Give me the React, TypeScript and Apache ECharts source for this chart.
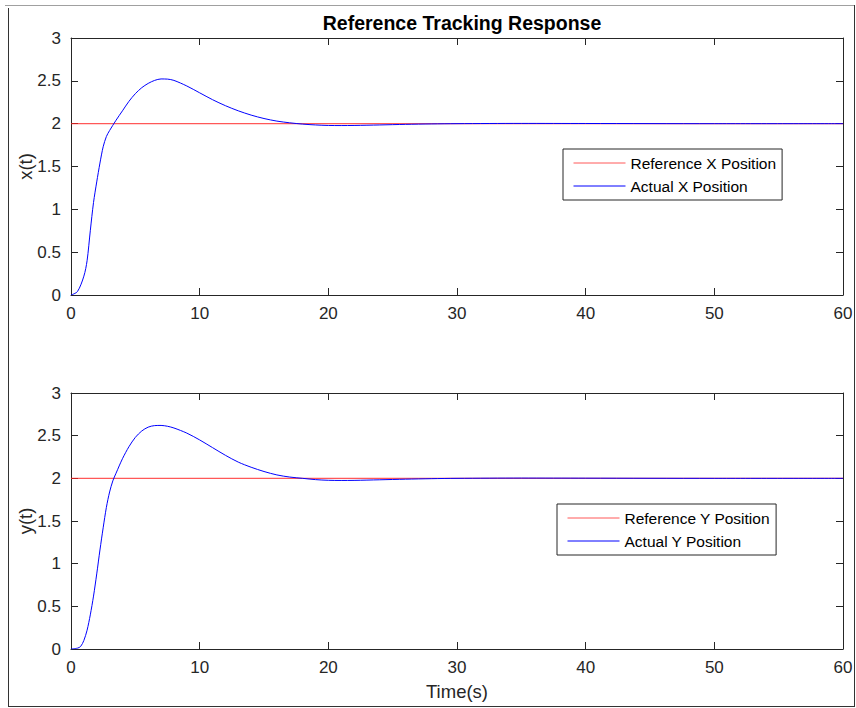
import React, { useEffect, useRef } from "react";
import * as echarts from "echarts";

const tX = [0, 0.5, 1.0, 1.25, 1.5, 1.75, 2.0, 2.25, 2.5, 2.75, 3.0, 3.5, 4.0, 4.5, 5.0, 5.5, 6.0, 6.5, 7.0, 7.5, 8.0, 9.0, 10, 11, 12, 13, 14, 15, 16, 17, 18, 19, 20, 21, 22, 24, 26, 28, 30, 35, 40, 50, 60];
const xActual = [0, 0.04, 0.22, 0.4, 0.75, 1.08, 1.32, 1.54, 1.73, 1.85, 1.92, 2.04, 2.15, 2.26, 2.35, 2.42, 2.47, 2.505, 2.522, 2.52, 2.505, 2.44, 2.36, 2.28, 2.21, 2.15, 2.1, 2.06, 2.03, 2.01, 1.995, 1.985, 1.979, 1.978, 1.979, 1.985, 1.992, 1.997, 2.0, 2.003, 2.002, 2.0, 2.0];

const tY = [0, 0.5, 0.75, 1.0, 1.25, 1.5, 1.75, 2.0, 2.25, 2.5, 2.75, 3.0, 3.25, 3.5, 4.0, 4.5, 5.0, 5.5, 6.0, 6.5, 7.0, 7.5, 8.0, 9.0, 10, 11, 12, 13, 14, 15, 16, 17, 18, 19, 20, 21, 22, 24, 26, 28, 30, 35, 40, 50, 60];
const yActual = [0, 0.01, 0.03, 0.1, 0.22, 0.4, 0.62, 0.88, 1.16, 1.42, 1.66, 1.84, 1.97, 2.06, 2.23, 2.37, 2.48, 2.555, 2.6, 2.618, 2.62, 2.61, 2.59, 2.53, 2.45, 2.36, 2.27, 2.19, 2.13, 2.08, 2.04, 2.015, 2.0, 1.985, 1.977, 1.975, 1.976, 1.983, 1.99, 1.996, 2.0, 2.003, 2.002, 2.0, 2.0];

const tRef = [0, 60];
const refValue = [2, 2];

const xTicks = [0, 10, 20, 30, 40, 50, 60];
const yTicks = [0, 0.5, 1, 1.5, 2, 2.5, 3];

const titleText = "Reference Tracking Response";
const xAxisLabel = "Time(s)";
const yLabels = ["x(t)", "y(t)"];
const legendNames = [
  ["Reference X Position", "Actual X Position"],
  ["Reference Y Position", "Actual Y Position"],
];

const FONT = "'Liberation Sans', Arial, Helvetica, sans-serif";
const AX = "#262626";

export default function App() {
  const ref = useRef<HTMLDivElement>(null);
  useEffect(() => {
    if (!ref.current) return;
    const chart = echarts.init(ref.current, undefined, { renderer: "svg" });
    const grids = [
      { left: 71, top: 38, width: 772, height: 257 },
      { left: 71, top: 393, width: 772, height: 256 },
    ];
    const xAxes: any[] = [];
    const yAxes: any[] = [];
    grids.forEach((_, g) => {
      const common = {
        gridIndex: g,
        type: "value",
        min: xTicks[0],
        max: xTicks[xTicks.length - 1],
        interval: 10,
        splitLine: { show: false },
        axisLine: { show: true, onZero: false, lineStyle: { color: AX, width: 1 } },
        axisTick: { show: true, inside: true, length: 7, lineStyle: { color: AX } },
      };
      xAxes.push({
        ...common,
        position: "bottom",
        axisLabel: { show: true, color: AX, fontSize: 17, fontFamily: FONT, margin: 10 },
        name: g === 1 ? xAxisLabel : "",
        nameLocation: "middle",
        nameGap: 33,
        nameMoveOverlap: false,
        nameTextStyle: { color: AX, fontSize: 18.5, fontFamily: FONT },
      });
      xAxes.push({ ...common, position: "top", axisLabel: { show: false } });
      const ycommon = {
        gridIndex: g,
        type: "value",
        min: yTicks[0],
        max: yTicks[yTicks.length - 1],
        interval: 0.5,
        splitLine: { show: false },
        axisLine: { show: true, onZero: false, lineStyle: { color: AX, width: 1 } },
        axisTick: { show: true, inside: true, length: 7, lineStyle: { color: AX } },
      };
      yAxes.push({
        ...ycommon,
        position: "left",
        axisLabel: { show: true, color: AX, fontSize: 17, fontFamily: FONT, margin: 10 },
        name: yLabels[g],
        nameLocation: "middle",
        nameGap: 36,
        nameMoveOverlap: false,
        nameTextStyle: { color: AX, fontSize: 18.5, fontFamily: FONT },
      });
      yAxes.push({ ...ycommon, position: "right", axisLabel: { show: false } });
    });

    const refX = tRef.map((t, i) => [t, refValue[i]]);
    const series: any[] = [];
    [
      [tX, xActual],
      [tY, yActual],
    ].forEach(([ts, vs], g) => {
      series.push({
        name: legendNames[g][0],
        type: "line",
        xAxisIndex: g * 2,
        yAxisIndex: g * 2,
        data: refX,
        symbol: "none",
        lineStyle: { color: "#ff2020", width: 1.2, opacity: 0.75 },
        itemStyle: { color: "#ff2020" },
        silent: true,
      });
      series.push({
        name: legendNames[g][1],
        type: "line",
        xAxisIndex: g * 2,
        yAxisIndex: g * 2,
        data: (ts as number[]).map((t, i) => [t, (vs as number[])[i]]),
        symbol: "none",
        smooth: 0.3,
        lineStyle: { color: "#0000ff", width: 1 },
        itemStyle: { color: "#0000ff" },
        silent: true,
      });
    });

    const legendPos = [
      { left: 563, top: 149 },
      { left: 557, top: 504 },
    ];
    const legends = legendPos.map((p, g) => ({
      ...p,
      orient: "vertical",
      data: legendNames[g],
      itemWidth: 52,
      itemHeight: 14,
      itemGap: 7,
      padding: [6, 6, 6, 10],
      borderColor: AX,
      borderWidth: 1,
      backgroundColor: "#ffffff",
      selectedMode: false,
      itemStyle: { opacity: 0 },
      lineStyle: { width: 1 },
      textStyle: { color: "#000", fontSize: 15.5, fontFamily: FONT },
    }));

    chart.setOption({
      animation: false,
      backgroundColor: "#ffffff",
      title: {
        text: titleText,
        left: 457,
        top: 8,
        textAlign: "center",
        textStyle: { color: "#000", fontSize: 19.5, fontWeight: "bold", fontFamily: FONT },
      },
      grid: grids,
      xAxis: xAxes,
      yAxis: yAxes,
      legend: legends,
      series,
      graphic: [
        { type: "line", shape: { x1: 5, y1: 5.5, x2: 854, y2: 5.5 }, style: { stroke: "#a0a0a0", lineWidth: 1 } },
        { type: "line", shape: { x1: 8.5, y1: 8, x2: 8.5, y2: 706 }, style: { stroke: "#333", lineWidth: 1 } },
        { type: "line", shape: { x1: 8, y1: 706.5, x2: 854, y2: 706.5 }, style: { stroke: "#333", lineWidth: 1 } },
        { type: "line", shape: { x1: 854.5, y1: 5, x2: 854.5, y2: 707 }, style: { stroke: "#333", lineWidth: 1 } },
      ],
    });
    return () => chart.dispose();
  }, []);
  return (
    <div
      ref={ref}
      style={{ position: "absolute", left: 0, top: 0, width: 856, height: 708 }}
    />
  );
}
